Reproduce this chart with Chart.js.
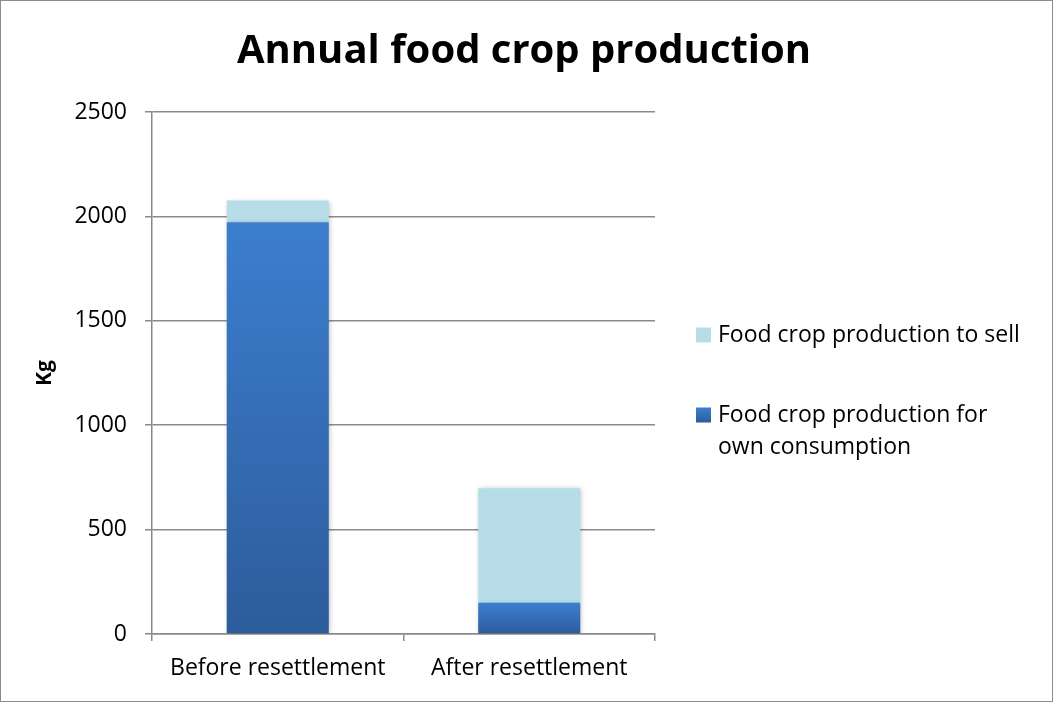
<!DOCTYPE html>
<html>
<head>
<meta charset="utf-8">
<title>Annual food crop production</title>
<script src="https://cdn.jsdelivr.net/npm/chart.js@4/dist/chart.umd.min.js"></script>
<style>
  html, body { margin: 0; padding: 0; background: #fff; }
  #wrap { width: 1053px; height: 702px; position: relative; }
</style>
</head>
<body>
<div id="wrap"><canvas id="chart" width="1053" height="702"></canvas></div>
<script>
const periods = ['Before resettlement', 'After resettlement'];
const ownConsumption = [1972, 150];
const toSell = [104, 548];
const yTicks = [0, 500, 1000, 1500, 2000, 2500];
const chartTitle = 'Annual food crop production';

const FONT = "'Open Sans', 'Noto Sans', sans-serif";
const GRID = '#8a8a8a';
const SELL_COLOR = '#b7dde8';

// vertical gradient per bar segment, from the segment top down to its base
function ownFill(ctx) {
    const chart = ctx.chart;
    const y = chart.scales.y;
    if (!chart.chartArea || !y || ctx.parsed == null) return '#3a7bca';
    const top = y.getPixelForValue(ctx.parsed.y);
    const base = y.getPixelForValue(0);
    if (!isFinite(top) || !isFinite(base) || top === base) return '#3a7bca';
    const g = chart.ctx.createLinearGradient(0, top, 0, base);
    g.addColorStop(0, '#3c7ecf');
    g.addColorStop(1, '#2d5c9b');
    return g;
}

const chromePlugin = {
    id: 'chrome',
    beforeDatasetsDraw(chart) {
        const c = chart.ctx;
        c.save();
        c.shadowColor = 'rgba(0,0,0,0.28)';
        c.shadowBlur = 5;
        c.shadowOffsetX = 1;
        c.shadowOffsetY = 1;
    },
    afterDatasetsDraw(chart) {
        chart.ctx.restore();
    },
    afterDraw(chart) {
        const c = chart.ctx;
        c.save();
        // outer frame
        c.strokeStyle = '#8c8c8c';
        c.lineWidth = 1;
        c.strokeRect(0.5, 0.5, chart.width - 1, chart.height - 1);

        // title centred over the whole canvas
        c.font = 'bold 40px ' + FONT;
        c.fillStyle = '#000';
        c.textAlign = 'center';
        c.textBaseline = 'middle';
        c.fillText(chartTitle, 524, 52);

        // legend, top entry is the upper stack
        const items = [
            { ds: chart.data.datasets[1], y: 335 },
            { ds: chart.data.datasets[0], y: 415 }
        ];
        c.font = '23px ' + FONT;
        c.textAlign = 'left';
        items.forEach(it => {
            const sw = 15;
            if (it.ds === chart.data.datasets[0]) {
                const g = c.createLinearGradient(0, it.y - sw / 2, 0, it.y + sw / 2);
                g.addColorStop(0, '#3c7ecf');
                g.addColorStop(1, '#2d5c9b');
                c.fillStyle = g;
            } else {
                c.fillStyle = SELL_COLOR;
            }
            c.fillRect(696, it.y - sw / 2, sw, sw);
            c.fillStyle = '#000';
            // simple word wrap
            const words = it.ds.label.split(' ');
            const lines = [];
            let line = '';
            words.forEach(w => {
                const t = line ? line + ' ' + w : w;
                if (c.measureText(t).width > 315 && line) {
                    lines.push(line);
                    line = w;
                } else {
                    line = t;
                }
            });
            lines.push(line);
            lines.forEach((l, i) => c.fillText(l, 718, it.y + i * 32));
        });
        c.restore();
    }
};

new Chart(document.getElementById('chart'), {
    type: 'bar',
    data: {
        labels: periods,
        datasets: [
            {
                label: 'Food crop production for own consumption',
                data: ownConsumption,
                backgroundColor: ownFill,
                borderWidth: 0,
                categoryPercentage: 1,
                barPercentage: 0.406
            },
            {
                label: 'Food crop production to sell',
                data: toSell,
                backgroundColor: SELL_COLOR,
                borderWidth: 0,
                categoryPercentage: 1,
                barPercentage: 0.406
            }
        ]
    },
    options: {
        responsive: false,
        animation: false,
        layout: { padding: { left: 0, right: 398, top: 112, bottom: 0 } },
        plugins: {
            legend: { display: false },
            tooltip: { enabled: false },
            title: { display: false }
        },
        scales: {
            x: {
                stacked: true,
                offset: true,
                afterFit: s => { s.height = 68; },
                grid: {
                    drawOnChartArea: false,
                    drawTicks: true,
                    tickLength: 7,
                    color: GRID,
                    lineWidth: 1.5
                },
                border: { color: GRID, width: 1.5 },
                ticks: {
                    color: '#000',
                    font: { family: FONT, size: 23 },
                    padding: 14
                }
            },
            y: {
                stacked: true,
                min: 0,
                max: 2500,
                afterFit: s => { s.width = 152; },
                afterBuildTicks: s => { s.ticks = yTicks.map(v => ({ value: v })); },
                grid: {
                    color: GRID,
                    lineWidth: 1.5,
                    drawTicks: true,
                    tickLength: 7
                },
                border: { color: GRID, width: 1.5 },
                ticks: {
                    color: '#000',
                    font: { family: FONT, size: 23 },
                    padding: 18,
                    callback: v => String(v)
                },
                title: {
                    display: true,
                    text: 'Kg',
                    color: '#000',
                    font: { family: FONT, size: 21, weight: 'bold' },
                    padding: { top: 32, bottom: 0 }
                }
            }
        }
    },
    plugins: [chromePlugin]
});
</script>
</body>
</html>
